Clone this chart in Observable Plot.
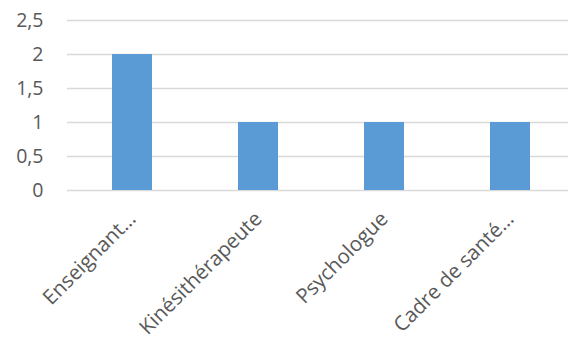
<!DOCTYPE html>
<html><head><meta charset="utf-8">
<script src="https://cdn.jsdelivr.net/npm/d3@7"></script>
<script src="https://cdn.jsdelivr.net/npm/@observablehq/plot@0.6"></script>
<style>body{margin:0;background:#fff;}svg{display:block;}</style>
</head><body><div id="chart"></div>
<script>
const categories = ["Enseignant…", "Kinésithérapeute", "Psychologue", "Cadre de santé…"];
const values = [2, 1, 1, 1];
const yTicks = [0, 0.5, 1, 1.5, 2, 2.5];
const data = categories.map((c, i) => ({category: c, value: values[i]}));
const fmt = d => String(d).replace(".", ",");
const chart = Plot.plot({
  width: 568, height: 342,
  marginTop: 20, marginBottom: 152, marginLeft: 67, marginRight: 0,
  style: {fontFamily: "'Open Sans', sans-serif", background: "#fff"},
  x: {domain: categories, range: [67, 574], paddingInner: 0.684, paddingOuter: 0.342, label: null},
  y: {domain: [0, 2.5], label: null},
  marks: [
    Plot.ruleY(yTicks, {stroke: "#d9d9d9", strokeWidth: 1.3}),
    Plot.barY(data, {x: "category", y: "value", fill: "#5B9BD5"}),
    Plot.axisY(yTicks, {tickSize: 0, tickPadding: 24, tickFormat: fmt, fontSize: 19.5, fill: "#595959", label: null}),
    Plot.axisX({tickSize: 0, tickRotate: -45, tickPadding: 25, fontSize: 20.5, fill: "#595959", label: null})
  ]
});
document.getElementById("chart").append(chart);
</script></body></html>
